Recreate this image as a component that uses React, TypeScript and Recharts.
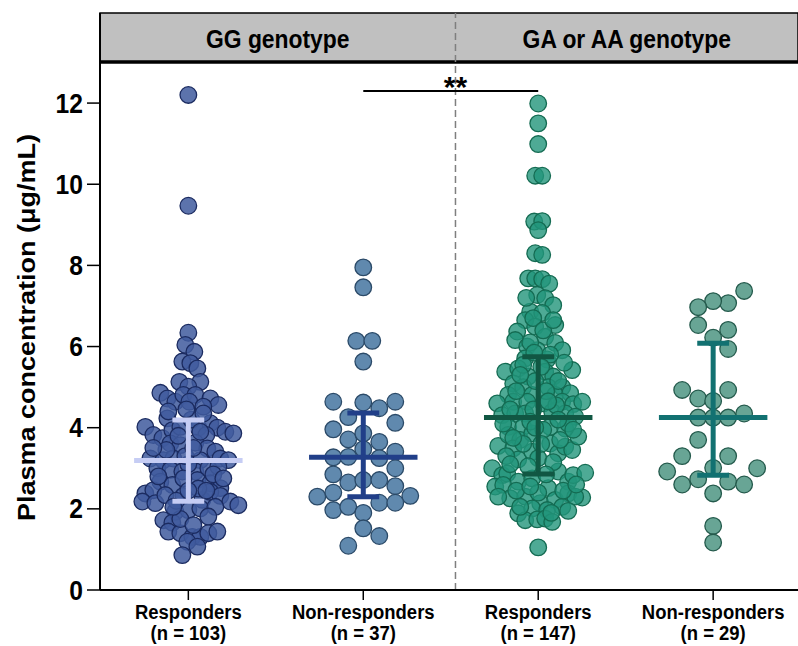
import React from 'react';
import { ScatterChart, Scatter, XAxis, YAxis, ReferenceLine, ReferenceArea, ReferenceDot } from 'recharts';

const FONT = '"Liberation Sans", Arial, Helvetica, sans-serif';
const SX = 0.88; // horizontal squeeze of the lettering in the reference

const categories = ['Responders', 'Non-responders', 'Responders', 'Non-responders'];
const sampleSizes = ['(n = 103)', '(n = 37)', '(n = 147)', '(n = 29)'];
const genotypes = ['GG genotype', 'GA or AA genotype'];
const yTicks = [0, 2, 4, 6, 8, 10, 12];
const yTitle = 'Plasma concentration (μg/mL)';
const significance = '**';

// each point: [horizontal jitter in 1/175 of a category slot, plasma concentration (µg/mL)]
const ggResponders: [number, number][] = [
  [0, 12.2], [0, 9.47],
  [0, 6.34], [-3, 6.04], [6, 5.87], [-6, 5.63], [2, 5.59], [9, 5.46], [-9, 5.13], [12, 5.13],
  [0, 5.01], [-28, 4.86], [-21, 4.72], [-13, 4.64], [-5, 4.81], [7, 4.81], [22, 4.72], [30, 4.56],
  [1, 4.64], [15, 4.52], [-21, 4.23], [-43, 4.02], [-35, 3.82], [-26, 3.74], [-16, 3.94], [-8, 4.02],
  [10, 4.0], [22, 4.11], [29, 4.0], [37, 3.9], [45, 3.86], [18, 3.82], [-18, 3.61], [-8, 3.57],
  [7, 3.63], [19, 3.49], [27, 3.41], [-38, 3.24], [-25, 3.2], [-15, 3.24], [12, 3.2], [32, 3.24],
  [40, 3.2], [-31, 3.0], [-18, 2.96], [-6, 2.92], [7, 2.92], [20, 3.0], [30, 3.04], [-28, 2.67],
  [-16, 2.59], [9, 2.71], [22, 2.63], [32, 2.51], [-43, 2.38], [-35, 2.46], [-46, 2.18], [-33, 2.14],
  [-23, 2.34], [-5, 2.32], [14, 2.22], [22, 2.42], [32, 2.32], [42, 2.18], [50, 2.09], [-13, 1.93],
  [0, 1.97], [12, 2.01], [27, 2.05], [-25, 1.72], [-16, 1.66], [20, 1.81], [-20, 1.44], [-8, 1.4],
  [4, 1.31], [12, 1.31], [20, 1.4], [29, 1.44], [-1, 1.19], [9, 1.07], [-6, 0.86],
  [0, 3.1], [-3, 3.3], [5, 3.5], [-10, 3.8], [3, 4.2], [-20, 4.4], [15, 4.35], [-5, 2.75],
  [10, 2.5], [-12, 2.2], [0, 2.45], [-30, 2.8], [25, 2.85], [-22, 3.45], [12, 3.9], [-2, 4.45],
  [18, 2.45], [-8, 1.75], [5, 1.6], [-35, 3.5], [35, 2.75], [-15, 2.05],
];

const ggNonResponders: [number, number][] = [
  [0, 7.95], [0, 7.46], [-7, 6.14], [9, 6.14], [0, 5.63], [-30, 4.64], [0, 4.62], [16, 4.48],
  [32, 4.64], [-15, 4.26], [32, 4.12], [-30, 3.96], [-15, 3.71], [0, 3.86], [16, 3.65], [0, 3.47],
  [-30, 3.27], [-15, 3.28], [16, 3.25], [32, 3.41], [32, 3.0], [-30, 2.85], [-15, 2.65], [0, 2.71],
  [16, 2.71], [32, 2.56], [-46, 2.3], [-30, 2.4], [47, 2.32], [16, 2.15], [32, 2.15], [-30, 1.97],
  [-15, 2.05], [0, 1.9], [0, 1.52], [16, 1.33], [-15, 1.09],
];

const gaResponders: [number, number][] = [
  [0, 11.99], [0, 11.5], [0, 10.99], [-3, 10.21], [4, 10.21], [-4, 9.08], [4, 9.09], [0, 8.87],
  [-3, 8.3], [4, 8.26], [-10, 7.68], [-3, 7.68], [4, 7.66], [11, 7.55],
  [-1, 7.27], [7, 7.19], [15, 7.02], [-8, 6.86], [4, 6.83], [-13, 6.65], [17, 6.53], [-3, 6.49],
  [-21, 6.37], [7, 6.24], [-23, 6.16], [17, 6.09], [-11, 6.0], [24, 5.91], [-1, 5.91], [-13, 5.71],
  [9, 5.68], [-33, 5.38], [-20, 5.46], [-10, 5.26], [7, 5.38], [15, 5.26], [34, 5.42], [-25, 5.09],
  [-15, 5.0], [10, 5.0], [24, 5.0], [-30, 4.81], [-6, 4.81], [17, 4.81], [32, 4.85], [-41, 4.6],
  [-25, 4.64], [-11, 4.64], [5, 4.6], [24, 4.64], [35, 4.58], [44, 4.64], [-36, 4.31], [-23, 4.35],
  [-13, 4.35], [14, 4.39], [27, 4.35], [37, 4.27], [-30, 4.02], [-15, 4.02], [12, 4.02],
  [-40, 3.55], [-30, 3.82], [-18, 3.7], [-6, 3.86], [-25, 3.49], [-20, 3.22], [-6, 3.41], [12, 3.61],
  [20, 3.37], [27, 3.53], [34, 3.45], [40, 3.78], [27, 3.98],
  [-46, 3.0], [-36, 2.83], [-31, 2.87], [-20, 2.67], [-6, 2.75], [10, 2.51], [20, 2.92], [30, 2.67],
  [35, 2.83], [47, 2.89], [-43, 2.55], [-35, 2.59], [-28, 2.26], [-13, 2.3], [2, 2.14], [17, 2.22],
  [30, 2.38], [44, 2.28], [37, 2.3], [-20, 1.89], [-6, 2.01], [9, 1.97], [24, 2.05], [-13, 1.72],
  [-1, 1.74], [7, 1.76], [14, 1.68], [0, 1.05],
  [-5, 6.7], [5, 6.4], [-8, 6.1], [12, 5.8], [-15, 5.55], [3, 5.5], [-3, 5.15], [20, 5.15],
  [-22, 4.9], [8, 4.9], [-5, 4.45], [18, 4.55], [-28, 4.45], [30, 4.1], [-8, 4.15], [5, 3.95],
  [-15, 3.6], [22, 3.7], [-32, 3.3], [0, 3.25], [15, 3.15], [-10, 3.05], [8, 2.85], [-22, 2.45],
  [25, 2.45], [0, 2.4], [-8, 2.55], [38, 2.6], [-40, 2.3], [13, 1.9], [-18, 2.05], [30, 1.95],
  [-25, 3.75], [35, 3.95], [-35, 4.1], [10, 4.65], [-18, 5.3], [26, 5.6], [-4, 5.85], [15, 6.65],
  [-12, 7.2], [3, 3.6], [-3, 4.0], [20, 4.2], [-28, 3.1],
];

const gaNonResponders: [number, number][] = [
  [31, 7.37], [15, 7.07], [0, 7.12], [-15, 6.97], [-15, 6.53], [0, 6.22], [15, 6.41], [15, 5.94],
  [-31, 4.93], [-15, 4.72], [0, 4.66], [15, 4.93], [-15, 4.25], [0, 4.25], [15, 4.25], [31, 4.35],
  [-15, 3.7], [-31, 3.3], [15, 3.3], [0, 3.01], [-46, 2.92], [-31, 2.6], [-15, 2.73], [15, 2.67],
  [31, 2.6], [0, 2.38], [44, 3.0], [0, 1.58], [0, 1.17],
];

// mean and error-bar limits per group
const groupMeans = [3.19, 3.27, 4.25, 4.25];
const groupLower = [2.19, 2.3, 2.86, 2.83];
const groupUpper = [4.19, 4.36, 5.75, 6.08];

const groups = [ggResponders, ggNonResponders, gaResponders, gaNonResponders];
const dotFill = ['#405b9d', '#6089ae', '#22957a', '#68a595'];
const dotStroke = ['#1b2b60', '#2b4a68', '#146b52', '#245a4c'];
const dotOpacity = [0.85, 1, 0.8, 1];
const barColor = ['#c6cdf4', '#213f89', '#115743', '#127171'];

const SLOT = 175;
const X_DOMAIN: [number, number] = [0.495, 4.485];
const DIVIDER_X = 2.527;
const HEADER_BOTTOM = 13.01;
const HEADER_TOP = 14.22;
const SIG_Y = 12.3;

const toPoints = (arr: [number, number][], idx: number) =>
  arr.map(([j, v]) => ({ x: idx + 1 + j / SLOT, y: v }));

const makeDot = (i: number) => (props: any) => (
  <circle
    cx={props.cx}
    cy={props.cy}
    r={8.3}
    fill={dotFill[i]}
    fillOpacity={dotOpacity[i]}
    stroke={dotStroke[i]}
    strokeWidth={1.3}
  />
);

const XTick = (props: any) => {
  const { x, y, payload } = props;
  const i = Math.round(payload.value) - 1;
  return (
    <g transform={`translate(${x} ${y}) scale(${SX} 1)`}>
      <text x={0} y={0} textAnchor="middle" fontFamily={FONT} fontSize={21} fontWeight={700} fill="#000">
        <tspan x={0} dy={17}>{categories[i]}</tspan>
        <tspan x={0} dy={21}>{sampleSizes[i]}</tspan>
      </text>
    </g>
  );
};

const YTick = (props: any) => {
  const { x, y, payload } = props;
  return (
    <g transform={`translate(${x} ${y}) scale(${SX} 1)`}>
      <text x={0} y={0} textAnchor="end" dominantBaseline="central" fontFamily={FONT} fontSize={28} fontWeight={700} fill="#000">
        {payload.value}
      </text>
    </g>
  );
};

const YTitle = (props: any) => {
  const vb = props.viewBox || {};
  const cx = (vb.x || 0) + 27;
  const cy = (vb.y || 0) + (vb.height || 0) / 2 + 26;
  return (
    <g transform={`translate(${cx} ${cy}) scale(${SX} 1) rotate(-90)`}>
      <text x={0} y={0} textAnchor="middle" dominantBaseline="central" fontFamily={FONT} fontSize={27} fontWeight={700} fill="#000">
        {yTitle}
      </text>
    </g>
  );
};

const headerLabel = (text: string) => (props: any) => {
  const vb = props.viewBox || {};
  const cx = vb.x + vb.width / 2;
  const cy = vb.y + vb.height / 2 + 1;
  return (
    <g transform={`translate(${cx} ${cy}) scale(${SX} 1)`}>
      <text x={0} y={0} textAnchor="middle" dominantBaseline="central" fontFamily={FONT} fontSize={26} fontWeight={700} fill="#000">
        {text}
      </text>
    </g>
  );
};

const SigLabel = (props: any) => {
  const vb = props.viewBox || {};
  const cx = vb.x + (vb.width || 0) / 2;
  const cy = vb.y + (vb.height || 0) / 2;
  return (
    <text x={cx} y={cy + 6} textAnchor="middle" fontFamily={FONT} fontSize={30} fontWeight={700} fill="#000">
      {significance}
    </text>
  );
};

export default function App() {
  const halfMean = 0.31;
  const halfCap = 0.091;
  return (
    <div style={{ position: 'absolute', left: 0, top: 0, width: 798, height: 646, background: '#fff' }}>
      <ScatterChart width={798} height={646} margin={{ top: 13, right: 0, bottom: 0, left: 0 }}>
        <XAxis
          type="number"
          dataKey="x"
          domain={X_DOMAIN}
          ticks={[1, 2, 3, 4]}
          interval={0}
          allowDataOverflow
          height={56}
          tickSize={10}
          tick={<XTick />}
          axisLine={{ stroke: '#000', strokeWidth: 2 }}
          tickLine={{ stroke: '#000', strokeWidth: 1.5 }}
        />
        <YAxis
          type="number"
          dataKey="y"
          domain={[0, HEADER_TOP]}
          ticks={yTicks}
          interval={0}
          allowDataOverflow
          width={100}
          tickSize={13}
          tickMargin={4}
          tick={<YTick />}
          axisLine={{ stroke: '#000', strokeWidth: 2 }}
          tickLine={{ stroke: '#000', strokeWidth: 1.5 }}
          label={{ content: <YTitle /> }}
        />
        <ReferenceArea
          x1={X_DOMAIN[0]}
          x2={X_DOMAIN[1]}
          y1={HEADER_BOTTOM}
          y2={HEADER_TOP}
          fill="#c0c0c0"
          fillOpacity={1}
          stroke="#000"
          strokeWidth={1.5}
        />
        <ReferenceArea x1={X_DOMAIN[0]} x2={DIVIDER_X} y1={HEADER_BOTTOM} y2={HEADER_TOP} fillOpacity={0} label={{ content: headerLabel(genotypes[0]) }} />
        <ReferenceArea x1={DIVIDER_X} x2={X_DOMAIN[1]} y1={HEADER_BOTTOM} y2={HEADER_TOP} fillOpacity={0} label={{ content: headerLabel(genotypes[1]) }} />
        <ReferenceLine y={HEADER_BOTTOM} stroke="#000" strokeWidth={3.5} />
        <ReferenceLine x={DIVIDER_X} stroke="#7f7f7f" strokeWidth={1.5} strokeDasharray="7 4" />
        <ReferenceLine segment={[{ x: 2, y: SIG_Y }, { x: 3, y: SIG_Y }]} stroke="#000" strokeWidth={2} />
        <ReferenceDot x={DIVIDER_X} y={SIG_Y} r={0} fillOpacity={0} strokeOpacity={0} label={{ content: <SigLabel /> }} />
        {groups.map((g, i) => (
          <Scatter key={'s' + i} data={toPoints(g, i)} shape={makeDot(i)} isAnimationActive={false} />
        ))}
        {groupMeans.map((m, i) => {
          const c = i + 1;
          const common = { stroke: barColor[i], strokeWidth: 5, zIndex: 900 } as any;
          return [
            <ReferenceLine key={'v' + i} segment={[{ x: c, y: groupLower[i] }, { x: c, y: groupUpper[i] }]} {...common} />,
            <ReferenceLine key={'m' + i} segment={[{ x: c - halfMean, y: m }, { x: c + halfMean, y: m }]} {...common} />,
            <ReferenceLine key={'u' + i} segment={[{ x: c - halfCap, y: groupUpper[i] }, { x: c + halfCap, y: groupUpper[i] }]} {...common} />,
            <ReferenceLine key={'l' + i} segment={[{ x: c - halfCap, y: groupLower[i] }, { x: c + halfCap, y: groupLower[i] }]} {...common} />,
          ];
        })}
      </ScatterChart>
    </div>
  );
}
